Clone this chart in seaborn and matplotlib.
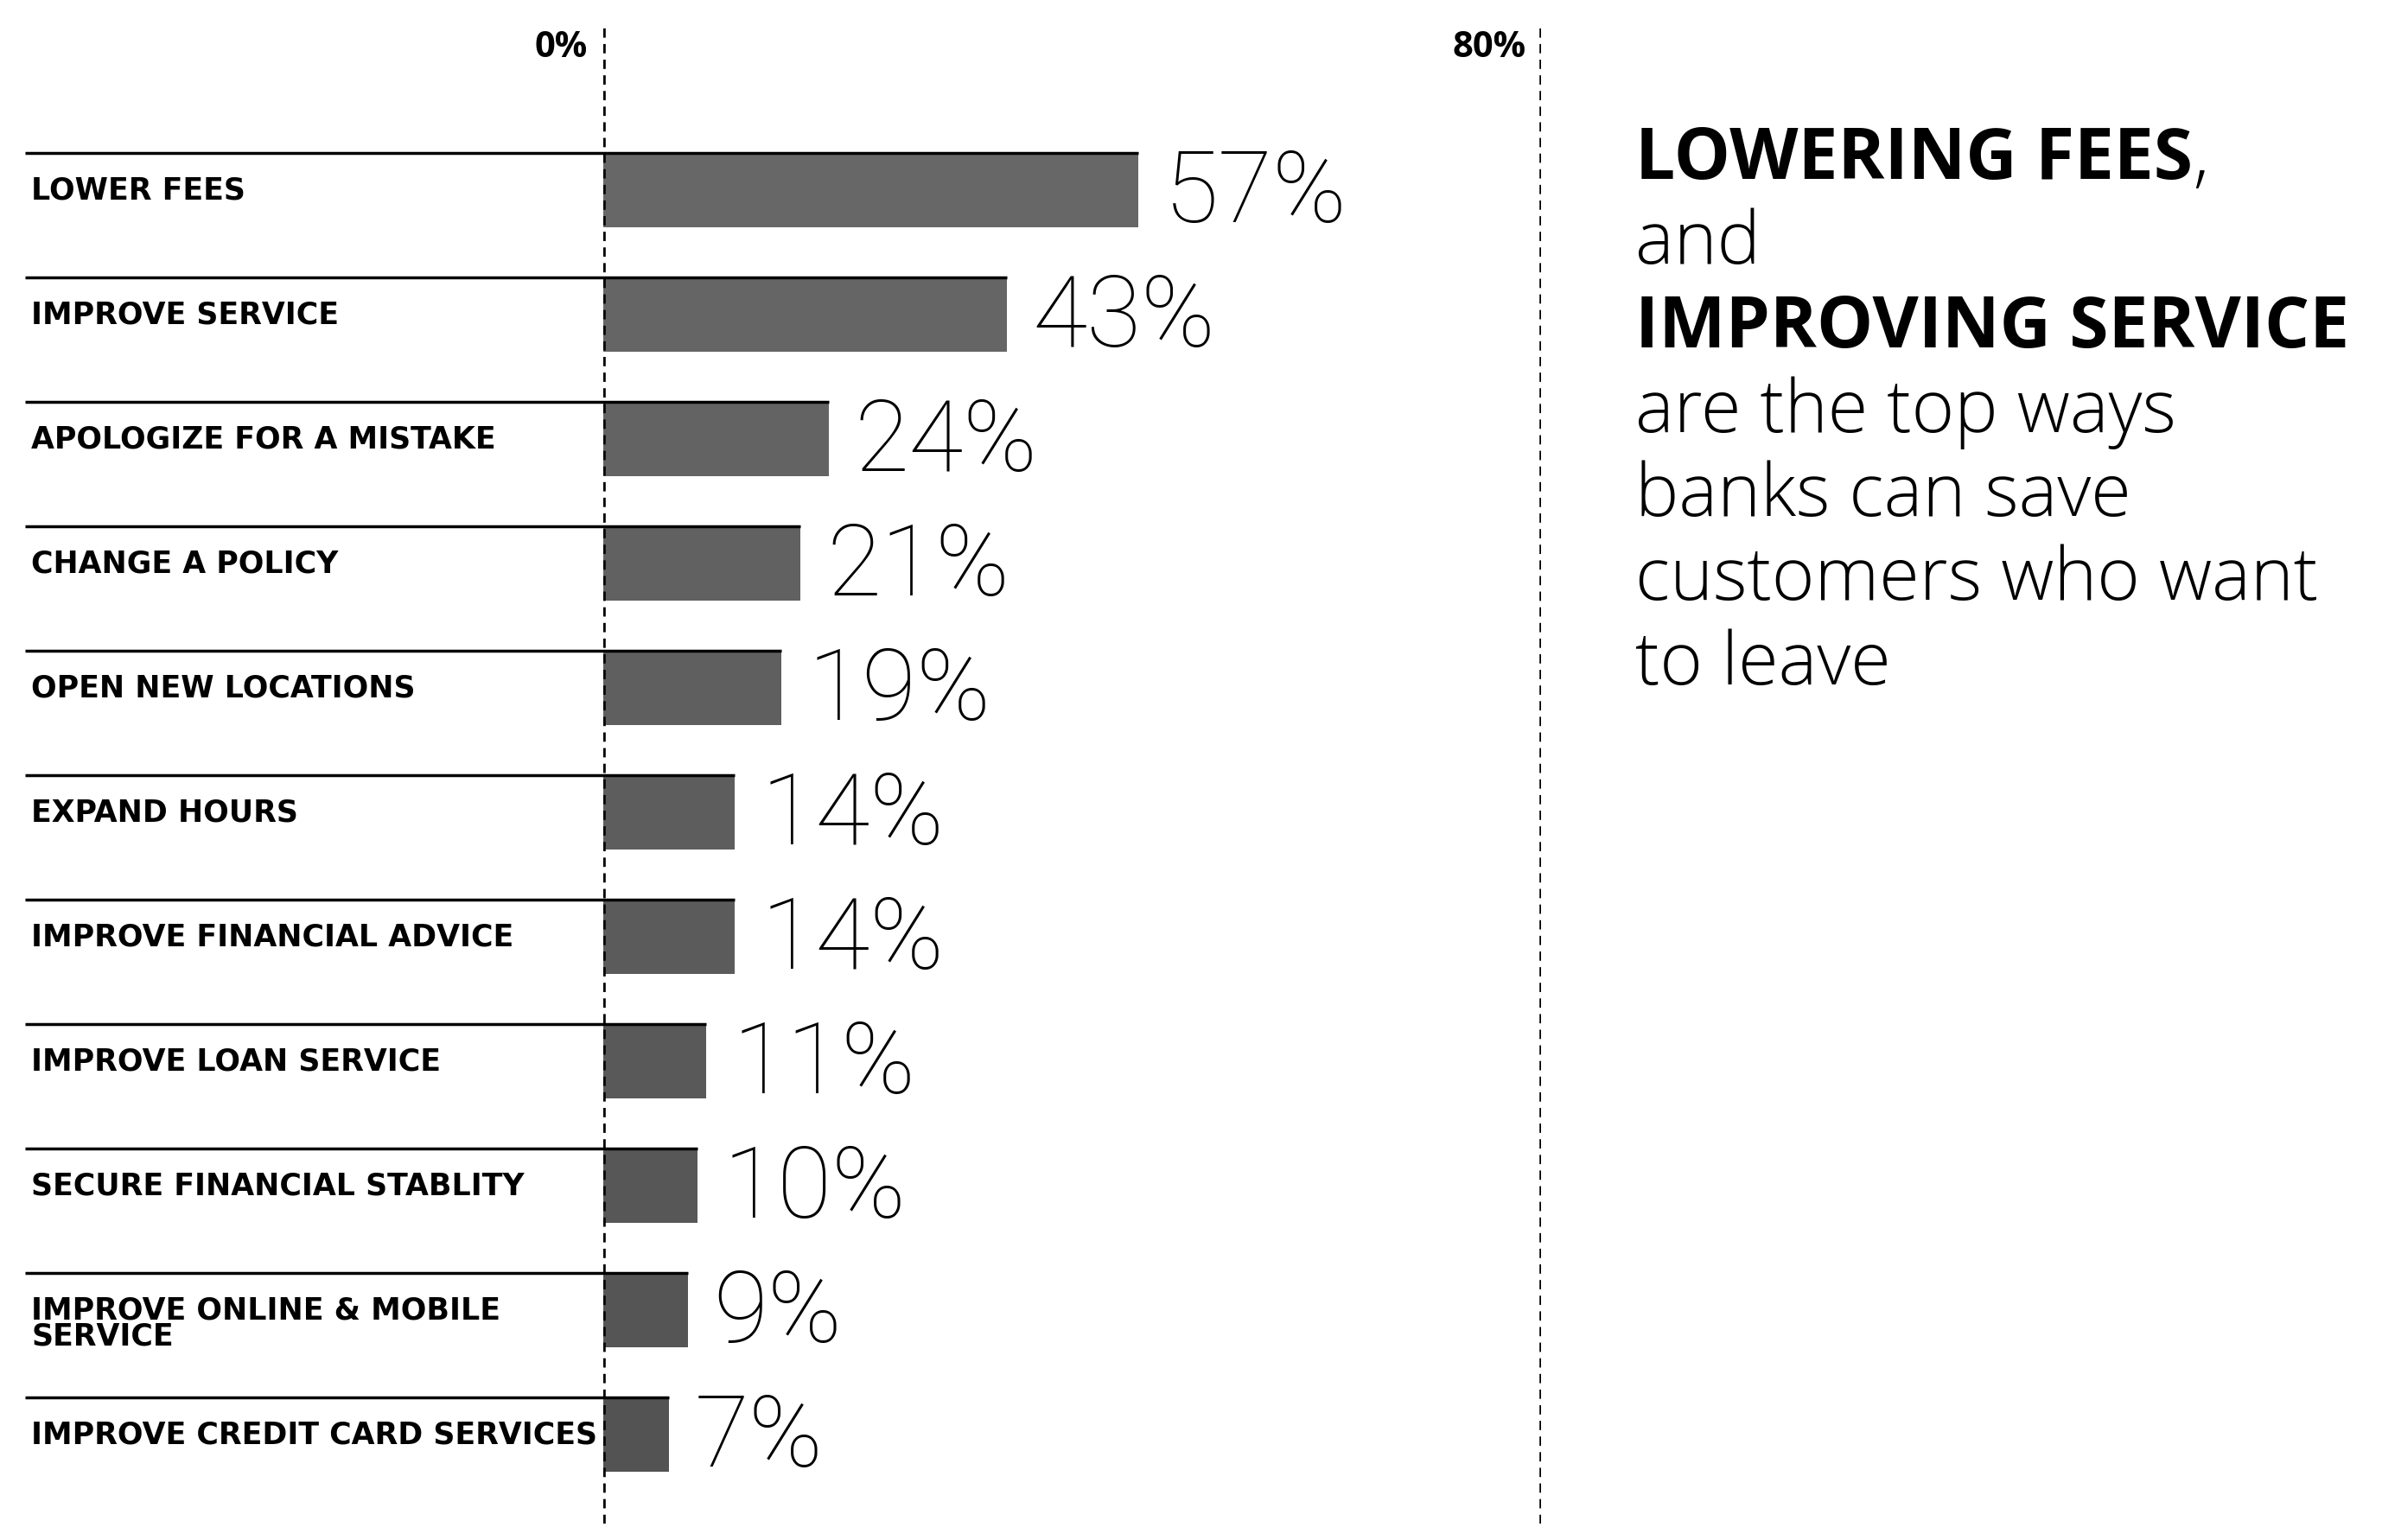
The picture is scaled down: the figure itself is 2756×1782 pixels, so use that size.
import numpy as np
import pandas as pd
import seaborn as sns
import matplotlib.pyplot as plt

# data
options = ["LOWER FEES", "IMPROVE SERVICE", "APOLOGIZE FOR A MISTAKE", "CHANGE A POLICY",
           "OPEN NEW LOCATIONS", "EXPAND HOURS", "IMPROVE FINANCIAL ADVICE",
           "IMPROVE LOAN SERVICE", "SECURE FINANCIAL STABLITY",
           "IMPROVE ONLINE & MOBILE\nSERVICE", "IMPROVE CREDIT CARD SERVICES"]
shares = [57, 43, 24, 21, 19, 14, 14, 11, 10, 9, 7]
scale_limits = [0, 100]
scale_labels = ["0%", "80%"]
headline = [("LOWERING FEES", "bold", ","),
            ("and", "light", ""),
            ("IMPROVING SERVICE", "bold", ""),
            ("are the top ways", "light", ""),
            ("banks can save", "light", ""),
            ("customers who want", "light", ""),
            ("to leave", "light", "")]


def configStyle():
    sns.set_theme(style="white")
    plt.rcParams['font.family'] = ['DejaVu Sans']
    plt.rcParams['text.color'] = 'black'
    return True


def plotReasons():
    df = pd.DataFrame({"option": options, "share": shares})
    fig = plt.figure(figsize=(27.56, 17.83), dpi=100)
    ax = fig.add_axes([0.2533, 0.01066, 0.3937, 0.97083])

    colors = sns.blend_palette(["#676767", "#535353"], n_colors=len(options))
    sns.barplot(data=df, x="share", y="option", hue="option", palette=colors,
                legend=False, orient="h", width=0.6, saturation=1, linewidth=0, ax=ax)

    ax.set_xlim(scale_limits)
    ax.set_ylim(len(options) - 0.285, -1.306)
    ax.set(xlabel="", ylabel="", xticks=[], yticks=[])
    sns.despine(ax=ax, left=True, bottom=True)

    # dashed scale lines at both ends
    for x in scale_limits:
        ax.axvline(x, color="black", lw=3.3, dashes=(2.35, 1.6), zorder=5)
    for frac, lab in zip([0, 1], scale_labels):
        ax.annotate(lab, xy=(frac, 1), xycoords="axes fraction", xytext=(-18, -2),
                    textcoords="offset pixels", ha="right", va="top",
                    fontsize=30, fontweight="bold", family=["Open Sans", "DejaVu Sans"])

    span = scale_limits[1] - scale_limits[0]
    x_left = scale_limits[0] - 0.6166 * span
    for i, (opt, v) in enumerate(zip(options, shares)):
        ax.plot([x_left, v], [i - 0.3, i - 0.3], color="black", lw=2.5,
                solid_capstyle="butt", clip_on=False, zorder=4)
        ax.annotate(opt, xy=(-0.6101, i - 0.3), xycoords=ax.get_yaxis_transform(),
                    xytext=(0, -26), textcoords="offset pixels", ha="left", va="top",
                    fontsize=25, fontweight="bold", linespacing=0.85, annotation_clip=False)
        ax.annotate(f"{v}%", xy=(v, i), xytext=(30, -4), textcoords="offset pixels",
                    ha="left", va="center", fontsize=83, fontweight=100,
                    family=["Roboto", "DejaVu Sans"])

    # headline text on the right
    y0 = 1 - 207 / 1783
    step = 97.5 / 1783
    for k, (txt, weight, tail) in enumerate(headline):
        t = fig.text(0.6865, y0 - k * step, txt, ha="left", va="baseline",
                     fontsize=59 if weight == "bold" else 61, fontweight=weight,
                     family=["Open Sans", "DejaVu Sans"])
        if tail:
            ax.annotate(tail, xy=(1, 0), xycoords=t, ha="left", va="bottom",
                        fontsize=61, fontweight="light", family=["Open Sans", "DejaVu Sans"])

    plt.savefig("out.png", dpi=100)


configStyle()
plotReasons()
